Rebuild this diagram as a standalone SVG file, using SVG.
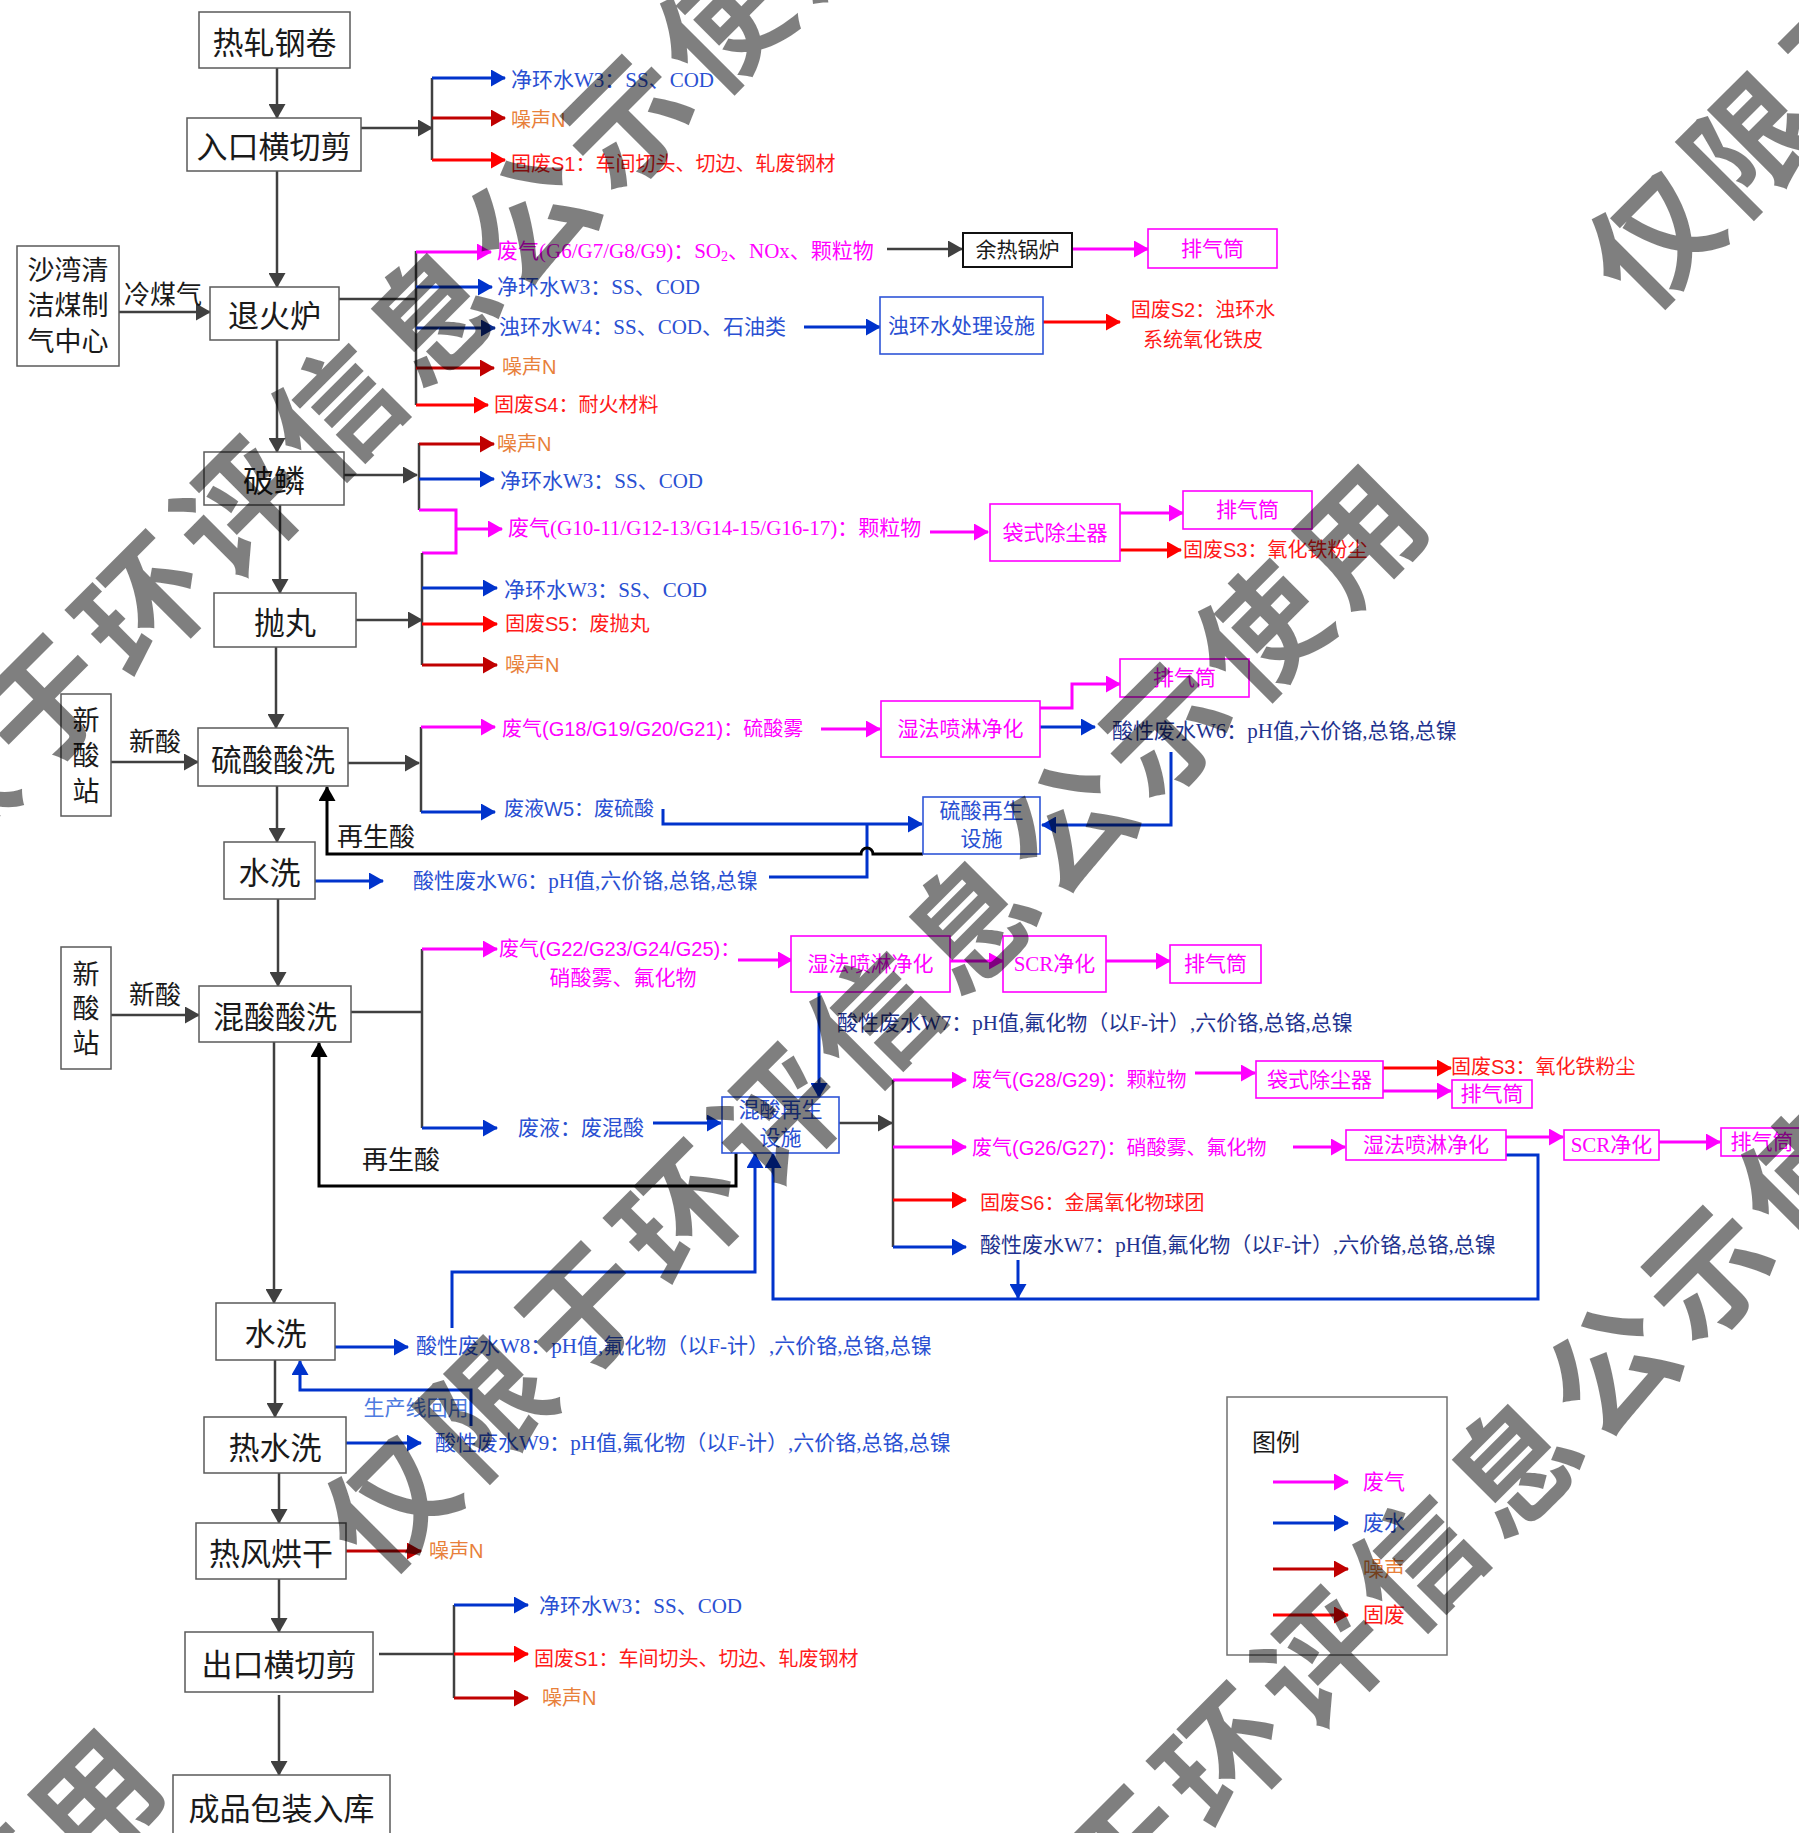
<svg xmlns="http://www.w3.org/2000/svg" width="1799" height="1833" viewBox="0 0 1799 1833">
<defs>
<style>
.box{fill:#fff;stroke:#5a5a5a;stroke-width:1.5}
.kbox{fill:#fff;stroke:#111;stroke-width:2}
.mbox{fill:#fff;stroke:#ff00ff;stroke-width:1.6}
.bbox{fill:#fff;stroke:#2f55d8;stroke-width:1.6}
text{dominant-baseline:central}
.mt{font-family:"Noto Sans CJK SC",sans-serif;font-size:31px;fill:#1a1a1a;text-anchor:middle}
.st{font-family:"Noto Sans CJK SC",sans-serif;font-size:26px;fill:#1a1a1a;text-anchor:middle}
.ser{font-family:"Liberation Serif","Noto Sans CJK SC",serif;font-size:21px}
.san{font-family:"Liberation Sans","Noto Sans CJK SC",sans-serif;font-size:20px}
.mid{text-anchor:middle}
.lg{font-family:"Noto Sans CJK SC",sans-serif;font-size:21px}
.cm{fill:#ff00ff}.cb{fill:#2a50d2}.cn{fill:#1f338f}.co{fill:#e8803a}.cr{fill:#ff1a1a}.cl{fill:#4d7ae0}.ck{fill:#1a1a1a}
.g{fill:none;stroke:#404040;stroke-width:2.5}
.k{fill:none;stroke:#000;stroke-width:3}
.m{fill:none;stroke:#ff00ff;stroke-width:3}
.b{fill:none;stroke:#0033cc;stroke-width:3}
.n{fill:none;stroke:#0a2a8c;stroke-width:3}
.d{fill:none;stroke:#c00000;stroke-width:3}
.r{fill:none;stroke:#ff0000;stroke-width:3}
.ga{marker-end:url(#ag)}.ka{marker-end:url(#ak)}.ma{marker-end:url(#am)}.ba{marker-end:url(#ab)}.na{marker-end:url(#an)}.da{marker-end:url(#ad)}.ra{marker-end:url(#ar)}
.wm{font-family:"Noto Sans CJK SC",sans-serif;font-weight:700;font-size:125px;letter-spacing:12px;fill:#000;fill-opacity:0.5;text-anchor:middle}
</style>
<marker id="ag" viewBox="0 0 15 17" refX="14" refY="8.5" markerWidth="15" markerHeight="17" markerUnits="userSpaceOnUse" orient="auto"><path d="M0,0L15,8.5L0,17z" fill="#404040"/></marker>
<marker id="ak" viewBox="0 0 15 17" refX="14" refY="8.5" markerWidth="15" markerHeight="17" markerUnits="userSpaceOnUse" orient="auto"><path d="M0,0L15,8.5L0,17z" fill="#000"/></marker>
<marker id="am" viewBox="0 0 15 17" refX="14" refY="8.5" markerWidth="15" markerHeight="17" markerUnits="userSpaceOnUse" orient="auto"><path d="M0,0L15,8.5L0,17z" fill="#ff00ff"/></marker>
<marker id="ab" viewBox="0 0 15 17" refX="14" refY="8.5" markerWidth="15" markerHeight="17" markerUnits="userSpaceOnUse" orient="auto"><path d="M0,0L15,8.5L0,17z" fill="#0033cc"/></marker>
<marker id="an" viewBox="0 0 15 17" refX="14" refY="8.5" markerWidth="15" markerHeight="17" markerUnits="userSpaceOnUse" orient="auto"><path d="M0,0L15,8.5L0,17z" fill="#0a2a8c"/></marker>
<marker id="ad" viewBox="0 0 15 17" refX="14" refY="8.5" markerWidth="15" markerHeight="17" markerUnits="userSpaceOnUse" orient="auto"><path d="M0,0L15,8.5L0,17z" fill="#c00000"/></marker>
<marker id="ar" viewBox="0 0 15 17" refX="14" refY="8.5" markerWidth="15" markerHeight="17" markerUnits="userSpaceOnUse" orient="auto"><path d="M0,0L15,8.5L0,17z" fill="#ff0000"/></marker>
</defs>
<rect width="1799" height="1833" fill="#fff"/>

<g id="connectors">
<path class="g ga" d="M277,68V118"/>
<path class="g ga" d="M277,171V287"/>
<path class="g ga" d="M119,312H210"/>
<path class="g ga" d="M277,340V452"/>
<path class="g ga" d="M280,505V593"/>
<path class="g ga" d="M276,647V728"/>
<path class="g ga" d="M111,762H198"/>
<path class="g ga" d="M277,786V842"/>
<path class="g ga" d="M278,899V986"/>
<path class="g ga" d="M111,1015H199"/>
<path class="g ga" d="M274,1042V1303"/>
<path class="g ga" d="M275,1360V1417"/>
<path class="g ga" d="M279,1473V1523"/>
<path class="g ga" d="M279,1579V1632"/>
<path class="g ga" d="M279,1695V1775"/>
<!-- G1 -->
<path class="g ga" d="M361,128H432"/>
<path class="g" d="M432,78V160"/>
<path class="b ba" d="M432,78H505"/>
<path class="d da" d="M432,118H505"/>
<path class="r ra" d="M432,160H505"/>
<!-- G2 -->
<path class="g" d="M339,299H416"/>
<path class="g" d="M416,251V405"/>
<path class="m ma" d="M416,252H491"/>
<path class="b ba" d="M416,287H492"/>
<path class="n na" d="M416,328H495"/>
<path class="d da" d="M416,368H494"/>
<path class="r ra" d="M416,405H488"/>
<path class="g ga" d="M887,249H962"/>
<path class="m ma" d="M1072,249H1148"/>
<path class="b ba" d="M804,327H880"/>
<path class="r ra" d="M1043,322H1120"/>
<!-- G3 -->
<path class="g ga" d="M344,475H417"/>
<path class="g" d="M419,443V510"/>
<path class="d da" d="M419,444H494"/>
<path class="b ba" d="M419,479H494"/>
<path class="m" d="M419,510H456V553H422"/>
<path class="m ma" d="M456,529H502"/>
<path class="g" d="M422,553V665"/>
<path class="g ga" d="M356,620H422"/>
<path class="b ba" d="M422,588H497"/>
<path class="r ra" d="M422,624H497"/>
<path class="d da" d="M422,665H497"/>
<path class="m ma" d="M930,532H988"/>
<path class="m ma" d="M1120,513H1183"/>
<path class="r ra" d="M1120,550H1181"/>
<!-- G4 -->
<path class="g ga" d="M348,763H419"/>
<path class="g" d="M421,727V812"/>
<path class="m ma" d="M421,727H495"/>
<path class="b ba" d="M421,812H495"/>
<path class="m ma" d="M821,729H880"/>
<path class="m ma" d="M1040,708H1072V684H1120"/>
<path class="b ba" d="M1040,727H1095"/>
<path class="b ba" d="M1171,752V825H1042"/>
<path class="b ba" d="M663,809V824H922"/>
<path class="b" d="M769,877H867V824"/>
<path class="k ka" d="M923,854H873A6,6 0 0 0 861,854H327V787"/>
<path class="b ba" d="M315,881H383"/>
<!-- G5 -->
<path class="g" d="M351,1012H422"/>
<path class="g" d="M422,949V1128"/>
<path class="m ma" d="M422,949H497"/>
<path class="b ba" d="M422,1128H497"/>
<path class="m ma" d="M738,960H792"/>
<path class="m ma" d="M950,961H1003"/>
<path class="m ma" d="M1106,961H1170"/>
<path class="b ba" d="M819,992V1097"/>
<path class="b ba" d="M653,1123H721"/>
<path class="k ka" d="M736,1153V1186H319V1043"/>
<path class="b ba" d="M452,1328V1272H755V1154"/>
<path class="b ba" d="M1506,1155H1538V1299H773V1154"/>
<path class="b ba" d="M1018,1260V1298"/>
<path class="g ga" d="M839,1123H892"/>
<path class="g" d="M893,1080V1247"/>
<path class="m ma" d="M893,1080H966"/>
<path class="m ma" d="M1195,1073H1255"/>
<path class="r ra" d="M1383,1068H1451"/>
<path class="m ma" d="M1383,1091H1451"/>
<path class="m ma" d="M893,1147H966"/>
<path class="m ma" d="M1293,1147H1345"/>
<path class="m ma" d="M1506,1137H1563"/>
<path class="m ma" d="M1659,1142H1720"/>
<path class="r ra" d="M893,1200H966"/>
<path class="b ba" d="M893,1247H966"/>
<!-- lower -->
<path class="b ba" d="M335,1347H408"/>
<path class="b ba" d="M471,1426V1390H300V1361"/>
<path class="b ba" d="M346,1443H421"/>
<path class="d da" d="M346,1551H421"/>
<path class="g" d="M379,1654H454"/>
<path class="g" d="M454,1605V1698"/>
<path class="b ba" d="M454,1605H528"/>
<path class="r ra" d="M454,1654H528"/>
<path class="d da" d="M454,1698H528"/>
</g>

<g id="n-rezha"><rect class="box" x="199" y="12" width="151" height="56"/><text class="mt" x="274.5" y="40">热轧钢卷</text></g>
<g id="n-rukou"><rect class="box" x="187" y="118" width="174" height="53"/><text class="mt" x="274" y="144.5">入口横切剪</text></g>
<g id="n-shawan"><rect class="box" x="17" y="246" width="102" height="120"/><text class="st" style="font-size:27px" x="68" y="268">沙湾清</text><text class="st" style="font-size:27px" x="68" y="303">洁煤制</text><text class="st" style="font-size:27px" x="68" y="339">气中心</text></g>
<text class="st" x="163" y="292">冷煤气</text>
<g id="n-tuihuo"><rect class="box" x="210" y="287" width="129" height="53"/><text class="mt" x="274.5" y="313.5">退火炉</text></g>
<g id="n-polin"><rect class="box" x="204" y="452" width="140" height="53"/><text class="mt" x="274" y="478.5">破鳞</text></g>
<g id="n-paowan"><rect class="box" x="214" y="593" width="142" height="54"/><text class="mt" x="285" y="620">抛丸</text></g>
<g id="n-xinsuan1"><rect class="box" x="61" y="694" width="50" height="122"/><text class="st" style="font-size:27px" x="86" y="718">新</text><text class="st" style="font-size:27px" x="86" y="753">酸</text><text class="st" style="font-size:27px" x="86" y="789">站</text></g>
<text class="st" x="155" y="739">新酸</text>
<g id="n-liusuan"><rect class="box" x="198" y="728" width="150" height="58"/><text class="mt" x="273" y="757">硫酸酸洗</text></g>
<text class="st" x="376" y="834">再生酸</text>
<g id="n-shuixi1"><rect class="box" x="224" y="842" width="91" height="57"/><text class="mt" x="269.5" y="870.5">水洗</text></g>
<g id="n-xinsuan2"><rect class="box" x="61" y="947" width="50" height="122"/><text class="st" style="font-size:27px" x="86" y="972">新</text><text class="st" style="font-size:27px" x="86" y="1006">酸</text><text class="st" style="font-size:27px" x="86" y="1041">站</text></g>
<text class="st" x="155" y="992">新酸</text>
<g id="n-hunsuan"><rect class="box" x="199" y="986" width="152" height="56"/><text class="mt" x="275" y="1014">混酸酸洗</text></g>
<text class="st" x="401" y="1157">再生酸</text>
<g id="n-shuixi2"><rect class="box" x="216" y="1303" width="119" height="57"/><text class="mt" x="275.5" y="1331.5">水洗</text></g>
<g id="n-reshuixi"><rect class="box" x="204" y="1417" width="142" height="56"/><text class="mt" x="275" y="1445">热水洗</text></g>
<g id="n-hongan"><rect class="box" x="196" y="1523" width="150" height="56"/><text class="mt" x="271" y="1551">热风烘干</text></g>
<g id="n-chukou"><rect class="box" x="185" y="1632" width="188" height="60"/><text class="mt" x="279" y="1662">出口横切剪</text></g>
<g id="n-chengpin"><rect class="box" x="173" y="1775" width="217" height="70"/><text class="mt" x="281.5" y="1806">成品包装入库</text></g>

<g id="n-yure"><rect class="kbox" x="963" y="233" width="109" height="34"/><text class="ser mid ck" x="1017.5" y="250">余热锅炉</text></g>
<g id="n-pqt1"><rect class="mbox" x="1148" y="229" width="129" height="39"/><text class="ser mid cm" x="1212.5" y="248.5">排气筒</text></g>
<g id="n-zhuohuan"><rect class="bbox" x="880" y="297" width="163" height="57"/><text class="ser mid cb" x="961.5" y="325.5">浊环水处理设施</text></g>
<g id="n-dai1"><rect class="mbox" x="990" y="504" width="130" height="57"/><text class="ser mid cm" x="1055" y="532.5">袋式除尘器</text></g>
<g id="n-pqt2"><rect class="mbox" x="1183" y="491" width="129" height="38"/><text class="ser mid cm" x="1247.5" y="510">排气筒</text></g>
<g id="n-shifa1"><rect class="mbox" x="881" y="701" width="159" height="56"/><text class="ser mid cm" x="960.5" y="729">湿法喷淋净化</text></g>
<g id="n-pqt3"><rect class="mbox" x="1120" y="659" width="129" height="38"/><text class="ser mid cm" x="1184.5" y="678">排气筒</text></g>
<g id="n-liuzs"><rect class="bbox" x="923" y="797" width="117" height="57"/><text class="ser mid cb" x="981.5" y="811">硫酸再生</text><text class="ser mid cb" x="981.5" y="839">设施</text></g>
<g id="n-shifa2"><rect class="mbox" x="791" y="936" width="159" height="56"/><text class="ser mid cm" x="870.5" y="964">湿法喷淋净化</text></g>
<g id="n-scr1"><rect class="mbox" x="1003" y="936" width="103" height="56"/><text class="ser mid cm" x="1054.5" y="964">SCR净化</text></g>
<g id="n-pqt4"><rect class="mbox" x="1170" y="945" width="91" height="38"/><text class="ser mid cm" x="1215.5" y="964">排气筒</text></g>
<g id="n-hunzs"><rect class="bbox" x="722" y="1097" width="117" height="56"/><text class="ser mid cb" x="780.5" y="1110">混酸再生</text><text class="ser mid cb" x="780.5" y="1138">设施</text></g>
<g id="n-dai2"><rect class="mbox" x="1256" y="1061" width="127" height="37"/><text class="ser mid cm" x="1319.5" y="1079.5">袋式除尘器</text></g>
<g id="n-pqt5"><rect class="mbox" x="1452" y="1080" width="80" height="28"/><text class="ser mid cm" x="1492" y="1094">排气筒</text></g>
<g id="n-shifa3"><rect class="mbox" x="1346" y="1130" width="160" height="30"/><text class="ser mid cm" x="1426" y="1145">湿法喷淋净化</text></g>
<g id="n-scr2"><rect class="mbox" x="1564" y="1130" width="95" height="30"/><text class="ser mid cm" x="1611.5" y="1145">SCR净化</text></g>
<g id="n-pqt6"><rect class="mbox" x="1721" y="1128" width="85" height="28"/><text class="ser mid cm" x="1762" y="1142">排气筒</text></g>

<g id="labels">
<text class="ser cb" x="511" y="80">净环水W3：SS、COD</text>
<text class="san co" x="511" y="120">噪声N</text>
<text class="san cr" x="511" y="164">固废S1：车间切头、切边、轧废钢材</text>
<text class="ser cm" x="497" y="251">废气(G6/G7/G8/G9)：SO<tspan font-size="14" dy="5">2</tspan><tspan dy="-5">、NOx、颗粒物</tspan></text>
<text class="ser cb" x="497" y="287">净环水W3：SS、COD</text>
<text class="ser cb" x="499" y="327">浊环水W4：SS、COD、石油类</text>
<text class="san co" x="502" y="367">噪声N</text>
<text class="san cr" x="494" y="405">固废S4：耐火材料</text>
<text class="san cr mid" x="1203" y="310">固废S2：浊环水</text>
<text class="san cr mid" x="1203" y="340">系统氧化铁皮</text>
<text class="san co" x="497" y="444">噪声N</text>
<text class="ser cb" x="500" y="481">净环水W3：SS、COD</text>
<text class="ser cm" x="508" y="528">废气(G10-11/G12-13/G14-15/G16-17)：颗粒物</text>
<text class="ser cb" x="504" y="590">净环水W3：SS、COD</text>
<text class="san cr" x="505" y="624">固废S5：废抛丸</text>
<text class="san co" x="505" y="665">噪声N</text>
<text class="san cr" x="1183" y="550">固废S3：氧化铁粉尘</text>
<text class="san cm" x="502" y="729">废气(G18/G19/G20/G21)：硫酸雾</text>
<text class="ser cn" x="1112" y="731">酸性废水W6：pH值,六价铬,总铬,总镍</text>
<text class="san cb" x="504" y="809">废液W5：废硫酸</text>
<text class="ser cb" x="413" y="881">酸性废水W6：pH值,六价铬,总铬,总镍</text>
<text class="san cm" x="499" y="949">废气(G22/G23/G24/G25)：</text>
<text class="ser cm mid" x="623" y="978">硝酸雾、氟化物</text>
<text class="ser cn" x="837" y="1023">酸性废水W7：pH值,氟化物（以F-计）,六价铬,总铬,总镍</text>
<text class="ser cb" x="518" y="1128">废液：废混酸</text>
<text class="san cm" x="972" y="1080">废气(G28/G29)：颗粒物</text>
<text class="san cr" x="1451" y="1067">固废S3：氧化铁粉尘</text>
<text class="san cm" x="972" y="1148">废气(G26/G27)：硝酸雾、氟化物</text>
<text class="san cr" x="980" y="1203">固废S6：金属氧化物球团</text>
<text class="ser cn" x="980" y="1245">酸性废水W7：pH值,氟化物（以F-计）,六价铬,总铬,总镍</text>
<text class="ser cb" x="416" y="1346">酸性废水W8：pH值,氟化物（以F-计）,六价铬,总铬,总镍</text>
<text class="ser cl mid" x="416" y="1408">生产线回用</text>
<text class="ser cb" x="435" y="1443">酸性废水W9：pH值,氟化物（以F-计）,六价铬,总铬,总镍</text>
<text class="san co" x="429" y="1551">噪声N</text>
<text class="ser cb" x="539" y="1606">净环水W3：SS、COD</text>
<text class="san cr" x="534" y="1659">固废S1：车间切头、切边、轧废钢材</text>
<text class="san co" x="542" y="1698">噪声N</text>
</g>

<g id="legend">
<rect x="1227" y="1397" width="220" height="258" fill="none" stroke="#707070" stroke-width="1.5"/>
<text class="lg ck" style="font-size:24px" x="1252" y="1440">图例</text>
<path class="m ma" d="M1273,1482H1348"/>
<path class="b ba" d="M1273,1523H1348"/>
<path class="d da" d="M1273,1569H1348"/>
<path class="r ra" d="M1273,1615H1348"/>
<text class="lg cm" x="1363" y="1480">废气</text>
<text class="lg cb" x="1363" y="1521">废水</text>
<text class="lg co" x="1363" y="1567">噪声</text>
<text class="lg cr" x="1363" y="1613">固废</text>
</g>

<g id="watermark">
<text class="wm" transform="translate(873,1010) rotate(-45)">仅限于环评信息公示使用</text>
<text class="wm" transform="translate(2137,-254) rotate(-45)">仅限于环评信息公示使用</text>
<text class="wm" transform="translate(-391,2274) rotate(-45)">仅限于环评信息公示使用</text>
<text class="wm" transform="translate(335,402) rotate(-45)">仅限于环评信息公示使用</text>
<text class="wm" transform="translate(1416,1553) rotate(-45)">仅限于环评信息公示使用</text>
</g>
</svg>
